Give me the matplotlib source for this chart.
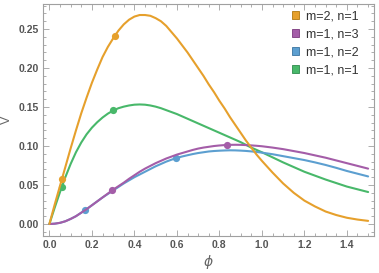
import numpy as np
import matplotlib
matplotlib.use("Agg")
import matplotlib.pyplot as plt
from matplotlib.patches import Patch
from matplotlib.ticker import MultipleLocator, FormatStrFormatter

# values
phi = [0.0, 0.025, 0.05, 0.075, 0.1, 0.125, 0.15, 0.175, 0.2, 0.225, 0.25,
       0.275, 0.3, 0.325, 0.35, 0.375, 0.4, 0.425, 0.45, 0.475, 0.5, 0.525,
       0.55, 0.575, 0.6, 0.625, 0.65, 0.675, 0.7, 0.725, 0.75, 0.775, 0.8,
       0.825, 0.85, 0.875, 0.9, 0.925, 0.95, 0.975, 1.0,
       1.05, 1.1, 1.15, 1.2, 1.25, 1.3, 1.35, 1.4, 1.45, 1.5]

v_m2n1 = [0.0, 0.025, 0.049, 0.073, 0.097, 0.120, 0.142, 0.162, 0.181, 0.198, 0.214,
          0.227, 0.238, 0.248, 0.256, 0.262, 0.266, 0.268, 0.268, 0.267, 0.264, 0.260,
          0.254, 0.246, 0.238, 0.229, 0.220, 0.210, 0.200, 0.190, 0.179, 0.169, 0.158,
          0.148, 0.137, 0.127, 0.117, 0.107, 0.098, 0.089, 0.081,
          0.066, 0.052, 0.040, 0.030, 0.0225, 0.016, 0.0115, 0.008, 0.0057, 0.004]
v_m1n3 = [0.0, 0.0004, 0.0015, 0.0035, 0.0065, 0.010, 0.0145, 0.019, 0.024, 0.029, 0.034,
          0.039, 0.044, 0.0485, 0.053, 0.058, 0.0625, 0.067, 0.071, 0.0745, 0.078, 0.081,
          0.084, 0.0865, 0.089, 0.091, 0.093, 0.095, 0.0967, 0.098, 0.099, 0.100, 0.1007,
          0.1012, 0.1015, 0.1016, 0.1015, 0.1012, 0.1008, 0.1003, 0.0997,
          0.098, 0.096, 0.0935, 0.091, 0.088, 0.085, 0.0815, 0.078, 0.0745, 0.071]
v_m1n2 = [0.0, 0.0004, 0.0015, 0.0035, 0.0065, 0.010, 0.0145, 0.019, 0.024, 0.029, 0.034,
          0.0385, 0.043, 0.0475, 0.052, 0.056, 0.060, 0.0635, 0.067, 0.0705, 0.074, 0.077,
          0.080, 0.0825, 0.0848, 0.0866, 0.0882, 0.0897, 0.091, 0.092, 0.093, 0.0936, 0.094,
          0.0943, 0.0945, 0.0944, 0.0941, 0.0937, 0.0931, 0.0924, 0.0915,
          0.0895, 0.087, 0.0845, 0.082, 0.079, 0.0757, 0.072, 0.068, 0.0645, 0.061]
v_m1n1 = [0.0, 0.021, 0.041, 0.060, 0.077, 0.092, 0.1045, 0.115, 0.1235, 0.1305, 0.1365,
          0.1415, 0.1455, 0.1485, 0.1505, 0.152, 0.153, 0.1533, 0.153, 0.152, 0.1505, 0.1485,
          0.146, 0.1435, 0.141, 0.138, 0.135, 0.132, 0.129, 0.126, 0.123, 0.120, 0.117,
          0.114, 0.111, 0.108, 0.105, 0.1015, 0.098, 0.095, 0.092,
          0.0855, 0.079, 0.073, 0.067, 0.062, 0.057, 0.0525, 0.048, 0.0445, 0.041]

# marked points on each curve
pts_m2n1 = ([0.06, 0.31], [0.0575, 0.2414])
pts_m1n3 = ([0.293, 0.836], [0.0433, 0.1013])
pts_m1n2 = ([0.167, 0.597], [0.018, 0.0845])
pts_m1n1 = ([0.059, 0.30], [0.048, 0.146])

labels = ["m=2, n=1", "m=1, n=3", "m=1, n=2", "m=1, n=1"]
colors = ["#E6A02C", "#A45DA8", "#5C9FD0", "#48B86A"]
edges = ["#B07810", "#7A3A7E", "#3A74A0", "#2E8A4C"]

fig = plt.figure(figsize=(3.79, 2.73), dpi=100)
ax = fig.add_axes([0.1135, 0.1355, 0.8735, 0.8495])

curves = [v_m2n1, v_m1n3, v_m1n2, v_m1n1]
pts = [pts_m2n1, pts_m1n3, pts_m1n2, pts_m1n1]
# green first, orange last on top
for i in [3, 2, 1, 0]:
    ax.plot(phi, curves[i], color=colors[i], lw=1.5, solid_capstyle="round",
            solid_joinstyle="round")
    ax.plot(pts[i][0], pts[i][1], "o", color=colors[i], ms=5.2, mew=0)

ax.set_xlim(-0.03, 1.528)
ax.set_ylim(-0.0154, 0.282)
ax.xaxis.set_major_locator(MultipleLocator(0.2))
ax.xaxis.set_minor_locator(MultipleLocator(0.05))
ax.yaxis.set_major_locator(MultipleLocator(0.05))
ax.yaxis.set_minor_locator(MultipleLocator(0.01))
ax.xaxis.set_major_formatter(FormatStrFormatter("%.1f"))
ax.yaxis.set_major_formatter(FormatStrFormatter("%.2f"))

frame = "#A0A0A0"
for s in ax.spines.values():
    s.set_color(frame)
    s.set_linewidth(0.8)
ax.tick_params(which="both", direction="in", top=True, right=True, color=frame,
               width=0.6)
ax.tick_params(which="major", length=4, labelsize=7.5, labelcolor="#555555", pad=3)
ax.tick_params(which="minor", length=2)
for t in ax.get_xticklabels() + ax.get_yticklabels():
    t.set_fontfamily("Liberation Sans")
    t.set_fontweight("bold")

ax.set_xlabel(r"$\phi$", fontsize=10, color="#666666", labelpad=2)
ax.set_ylabel("V", fontsize=9, color="#666666", labelpad=4,
              fontfamily="Liberation Sans")

handles = [Patch(facecolor=c, edgecolor=e, lw=0.6) for c, e in zip(colors, edges)]
leg = ax.legend(handles, labels, loc="upper left", bbox_to_anchor=(0.752, 0.972),
                frameon=False, borderpad=0, borderaxespad=0,
                handlelength=0.55, handleheight=0.55, handletextpad=0.55,
                labelspacing=0.48,
                prop={"family": "Liberation Sans", "size": 9})
for t in leg.get_texts():
    t.set_color("#333333")

fig.savefig("out.png", dpi=100)
